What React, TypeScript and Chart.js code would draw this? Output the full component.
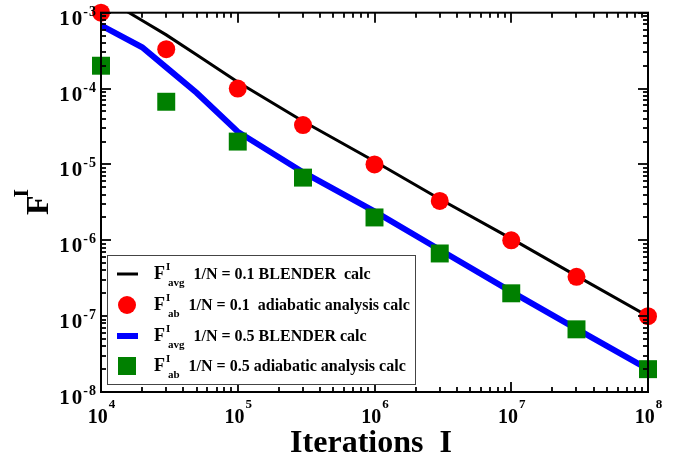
import React, { useEffect, useRef } from 'react';
import { Chart, registerables } from 'chart.js';

Chart.register(...registerables);

// ---- data ----
const blenderIters = [1e4, 2e4, 3e4, 5e4, 1e5, 3e5, 1e6, 3e6, 1e7, 3e7, 1e8];
const blenderN01 = [1.66e-3, 7.9e-4, 5.1e-4, 2.8e-4, 1.22e-4, 3.7e-5, 1.1e-5, 3.5e-6, 1.05e-6, 3.4e-7, 1.0e-7];
const blenderN05 = [6.8e-4, 3.5e-4, 1.9e-4, 8.8e-5, 2.7e-5, 7.9e-6, 2.4e-6, 7.5e-7, 2.1e-7, 6.8e-8, 2.0e-8];
const adiabaticIters = [1e4, 3e4, 1e5, 3e5, 1e6, 3e6, 1e7, 3e7, 1e8];
const adiabaticN01 = [1e-3, 3.3e-4, 1e-4, 3.3e-5, 1e-5, 3.3e-6, 1e-6, 3.3e-7, 1e-7];
const adiabaticN05 = [2e-4, 6.7e-5, 2e-5, 6.7e-6, 2e-6, 6.7e-7, 2e-7, 6.7e-8, 2e-8];

const xExponents = [4, 5, 6, 7, 8];
const yExponents = [-3, -4, -5, -6, -7, -8];

const legendRows = [
  { sub: 'avg', text: '1/N = 0.1 BLENDER  calc', kind: 'line', color: '#000000', width: 3 },
  { sub: 'ab', text: '1/N = 0.1  adiabatic analysis calc', kind: 'circle', color: '#ff0000' },
  { sub: 'avg', text: '1/N = 0.5 BLENDER calc', kind: 'line', color: '#0000ff', width: 6 },
  { sub: 'ab', text: '1/N = 0.5 adiabatic analysis calc', kind: 'square', color: '#008000' },
];

const SERIF = '"Liberation Serif", "Times New Roman", serif';

const pts = (xs: number[], ys: number[]) => xs.map((x, i) => ({ x, y: ys[i] }));

export default function App() {
  const ref = useRef<HTMLCanvasElement>(null);

  useEffect(() => {
    document.body.style.margin = '0';
    const canvas = ref.current!;

    const decorPlugin = {
      id: 'decor',
      afterDatasetsDraw(chart: any) {
        const ctx: CanvasRenderingContext2D = chart.ctx;
        const { left, right, top, bottom } = chart.chartArea;
        const xs = chart.scales.x;
        const ys = chart.scales.y;
        ctx.save();
        ctx.strokeStyle = '#000';
        ctx.lineWidth = 1.8;
        const seg = (x1: number, y1: number, x2: number, y2: number) => {
          ctx.beginPath();
          ctx.moveTo(x1, y1);
          ctx.lineTo(x2, y2);
          ctx.stroke();
        };
        // x ticks (inward, top & bottom)
        for (let e = 4; e <= 8; e++) {
          for (let m = 1; m <= 9; m++) {
            if (e === 8 && m > 1) break;
            const px = Math.round(xs.getPixelForValue(m * Math.pow(10, e)));
            const len = m === 1 ? 10 : 5;
            seg(px, bottom, px, bottom - len);
            seg(px, top, px, top + len);
          }
        }
        // y ticks (inward, left & right)
        for (let e = -8; e <= -3; e++) {
          for (let m = 1; m <= 9; m++) {
            if (e === -3 && m > 1) break;
            const py = Math.round(ys.getPixelForValue(m * Math.pow(10, e)));
            const len = m === 1 ? 10 : 5;
            seg(left, py, left + len, py);
            seg(right, py, right - len, py);
          }
        }
        ctx.lineWidth = 2;
        ctx.strokeRect(left, top, right - left, bottom - top);

        // tick labels
        ctx.fillStyle = '#000';
        ctx.textBaseline = 'alphabetic';
        for (const e of xExponents) {
          const px = xs.getPixelForValue(Math.pow(10, e));
          ctx.font = `bold 20px ${SERIF}`;
          const wb = ctx.measureText('10').width;
          ctx.font = `bold 13px ${SERIF}`;
          const we = ctx.measureText(String(e)).width;
          const x0 = px - (wb + we) / 2;
          ctx.textAlign = 'left';
          ctx.font = `bold 20px ${SERIF}`;
          ctx.fillText('10', x0, bottom + 31);
          ctx.font = `bold 13px ${SERIF}`;
          ctx.fillText(String(e), x0 + wb + 1, bottom + 16);
        }
        for (const e of yExponents) {
          const py = ys.getPixelForValue(Math.pow(10, e));
          const digit = String(-e);
          ctx.textAlign = 'left';
          ctx.font = `bold 14px ${SERIF}`;
          const wd = ctx.measureText(digit).width;
          const wm = ctx.measureText('-').width;
          const xr = left - 5;
          const xd = xr - wd;
          const xm = xd - 1 - wm;
          ctx.fillText(digit, xd, py + 3);
          ctx.fillText('-', xm, py + 3);
          ctx.font = `bold 21px ${SERIF}`;
          const w0 = ctx.measureText('0').width;
          const w1 = ctx.measureText('1').width;
          const x0 = xm - 1 - w0;
          ctx.fillText('0', x0, py + 12);
          ctx.fillText('1', x0 - 2 - w1, py + 12);
        }

        // axis titles
        ctx.textAlign = 'center';
        ctx.font = `bold 32px ${SERIF}`;
        ctx.fillText('Iterations  I', 371, 452);

        ctx.save();
        ctx.translate(48, 206);
        ctx.rotate(-Math.PI / 2);
        ctx.textAlign = 'left';
        ctx.font = `bold 32px ${SERIF}`;
        ctx.fillText('F', -9, 0);
        const fw = ctx.measureText('F').width;
        ctx.font = `bold 22px ${SERIF}`;
        ctx.fillText('I', -9 + fw - 2, -20);
        ctx.restore();

        // legend
        const bx = 107, by = 255, bw = 308, bh = 129;
        ctx.fillStyle = '#fff';
        ctx.fillRect(bx, by, bw, bh);
        ctx.strokeStyle = '#444';
        ctx.lineWidth = 1;
        ctx.strokeRect(bx + 0.5, by + 0.5, bw, bh);
        const baselines = [279, 310, 341, 371];
        legendRows.forEach((row, i) => {
          const bl = baselines[i];
          const cy = bl - 5;
          const cx = 127;
          if (row.kind === 'line') {
            ctx.strokeStyle = row.color;
            ctx.lineWidth = row.width as number;
            ctx.beginPath();
            ctx.moveTo(117, cy);
            ctx.lineTo(138, cy);
            ctx.stroke();
          } else if (row.kind === 'circle') {
            ctx.fillStyle = row.color;
            ctx.beginPath();
            ctx.arc(cx, cy, 9, 0, Math.PI * 2);
            ctx.fill();
          } else {
            ctx.fillStyle = row.color;
            ctx.fillRect(cx - 9, cy - 9, 18, 18);
          }
          ctx.fillStyle = '#000';
          ctx.textAlign = 'left';
          ctx.font = `bold 18px ${SERIF}`;
          ctx.fillText('F', 154, bl);
          const fW = ctx.measureText('F').width;
          ctx.font = `bold 11px ${SERIF}`;
          ctx.fillText('I', 154 + fW + 1, bl - 9);
          ctx.fillText(row.sub, 168, bl + 7);
          const sw = ctx.measureText(row.sub).width;
          ctx.font = `bold 16px ${SERIF}`;
          ctx.fillText(row.text, 168 + sw + 9, bl);
        });
        ctx.restore();
      },
    };

    const chart = new Chart(canvas, {
      type: 'scatter',
      data: {
        datasets: [
          {
            label: 'F avg 1/N = 0.1 BLENDER calc',
            data: pts(blenderIters, blenderN01),
            showLine: true,
            borderColor: '#000000',
            borderWidth: 3,
            pointRadius: 0,
            fill: false,
            tension: 0,
            order: 4,
          },
          {
            label: 'F avg 1/N = 0.5 BLENDER calc',
            data: pts(blenderIters, blenderN05),
            showLine: true,
            borderColor: '#0000ff',
            borderWidth: 6,
            pointRadius: 0,
            fill: false,
            tension: 0,
            order: 3,
          },
          {
            label: 'F ab 1/N = 0.1 adiabatic analysis calc',
            data: pts(adiabaticIters, adiabaticN01),
            showLine: false,
            pointStyle: 'circle',
            pointRadius: 9,
            pointBackgroundColor: '#ff0000',
            pointBorderWidth: 0,
            borderColor: '#ff0000',
            clip: false as any,
            order: 2,
          },
          {
            label: 'F ab 1/N = 0.5 adiabatic analysis calc',
            data: pts(adiabaticIters, adiabaticN05),
            showLine: false,
            pointStyle: 'rect',
            pointRadius: 12.7,
            pointBackgroundColor: '#008000',
            pointBorderWidth: 0,
            borderColor: '#008000',
            clip: false as any,
            order: 1,
          },
        ],
      },
      options: {
        animation: false,
        responsive: false,
        devicePixelRatio: 1,
        layout: { padding: { left: 101, right: 42, top: 11, bottom: 73 } },
        scales: {
          x: { type: 'logarithmic', min: 1e4, max: 1e8, display: false },
          y: { type: 'logarithmic', min: 1e-8, max: 1e-3, display: false },
        },
        plugins: {
          legend: { display: false },
          tooltip: { enabled: false },
        },
      },
      plugins: [decorPlugin],
    });

    return () => chart.destroy();
  }, []);

  return (
    <div style={{ width: 690, height: 465, background: '#fff' }}>
      <canvas ref={ref} width={690} height={465} style={{ display: 'block' }} />
    </div>
  );
}
